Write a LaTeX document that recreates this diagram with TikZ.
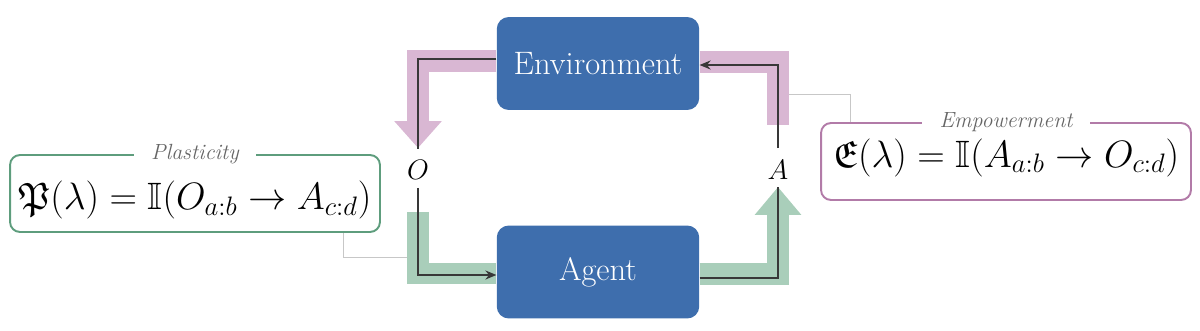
\RequirePackage{fix-cm}
\documentclass[tikz,border=0pt]{standalone}
\usepackage{amssymb}
\usetikzlibrary{arrows.meta,backgrounds}

\definecolor{boxblue}{HTML}{3E6EAD}
\definecolor{pinkband}{HTML}{D9B7D3}
\definecolor{greenband}{HTML}{A9CEBA}
\definecolor{pinkedge}{HTML}{B27BA8}
\definecolor{greenedge}{HTML}{5E9D7D}
\definecolor{flowline}{HTML}{383838}

\tikzset{
  block/.style={fill=boxblue, text=white, rounded corners=0.24cm, inner sep=0pt,
    minimum width=4.05cm, minimum height=1.86cm, font=\fontsize{18.5}{22}\selectfont},
  sig/.style={inner sep=0pt, font=\fontsize{16}{18}\selectfont},
  infobox/.style={draw, line width=1.1pt, rounded corners=0.2cm, minimum width=7.4cm, minimum height=1.54cm},
  formula/.style={inner sep=0pt, font=\fontsize{21.7}{25}\selectfont},
  boxtitle/.style={fill=white, inner xsep=0.35cm, inner ysep=1pt, text=black!60,
    font=\fontsize{12.5}{14}\selectfont\itshape},
  band/.style={line width=0.44cm},
  flow/.style={draw=flowline, line width=1.4pt},
  hint/.style={draw=black!22, line width=0.5pt}
}

\begin{document}
\begin{tikzpicture}[x=0.02cm,y=-0.02cm]
\useasboundingbox (0,0) rectangle (1200,331);

\node[block] (env) at (598,63.5) {Environment};
\node[block] (agent) at (598,272) {Agent};
\node[sig] (obs) at (418,170) {$O$};
\node[sig] (act) at (778,170) {$A$};

% plasticity / empowerment boxes
\node[infobox, draw=greenedge] (plast) at (195,193.5) {};
\node[formula] (pform) at ([yshift=-0.13cm]plast.center) {$\mathfrak{P}(\lambda) = \mathbb{I}(O_{a:b} \to A_{c:d})$};
\node[boxtitle] (ptitle) at (plast.north) {Plasticity};

\node[infobox, draw=pinkedge] (empow) at (1006,161.5) {};
\node[formula] (eform) at ([yshift=0.08cm]empow.center) {$\mathfrak{E}(\lambda) = \mathbb{I}(A_{a:b} \to O_{c:d})$};
\node[boxtitle] (etitle) at (empow.north) {Empowerment};

\begin{scope}[on background layer]
  % wide coloured bands
  \draw[band, pinkband, -{Triangle[width=0.92cm,length=0.54cm]}]
    ([yshift=0.05cm]env.west) -| ([yshift=0.44cm]obs.center);
  \draw[band, pinkband]
    ([yshift=0.03cm]env.east) -| ([yshift=0.9cm]act.center);
  \draw[band, greenband]
    ([yshift=-0.84cm]obs.center) |- ([yshift=-0.03cm]agent.west);
  \draw[band, greenband, -{Triangle[width=0.9cm,length=0.56cm]}]
    ([yshift=-0.04cm]agent.east) -| ([yshift=-0.34cm]act.center);
  % thin pointers
  \draw[hint] ([xshift=2.96cm]plast.south) |- ([xshift=-0.22cm,yshift=-1.74cm]obs.center);
  \draw[hint] ([xshift=-3.12cm]empow.north) |- ([xshift=0.22cm,yshift=1.52cm]act.center);
\end{scope}

% loop lines
\draw[flow] ([yshift=0.09cm]env.west) -| ([yshift=0.42cm]obs.center);
\draw[flow, -{Stealth[length=0.22cm,width=0.18cm]}] ([yshift=0.44cm]act.center) |- ([yshift=-0.03cm]env.east);
\draw[flow, -{Stealth[length=0.22cm,width=0.18cm]}] ([yshift=-0.36cm]obs.center) |- ([yshift=-0.06cm]agent.west);
\draw[flow] ([yshift=-0.12cm]agent.east) -| ([yshift=-0.34cm]act.center);

\end{tikzpicture}
\end{document}
